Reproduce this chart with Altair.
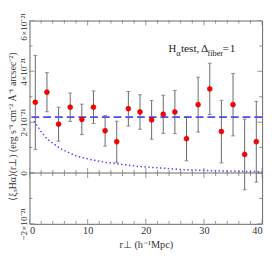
import altair as alt
import pandas as pd

# Measured data (units of 1e-21 erg s^-1 cm^-2 Å^-1 arcsec^-2)
r_perp = [1, 3, 5, 7, 9, 11, 13, 15, 17, 19, 21, 23, 25, 27, 29, 31, 33, 35, 37, 39]
xi_1e21 = [2.78, 3.18, 1.92, 2.59, 2.11, 2.59, 1.66, 1.23, 2.53, 2.40,
           2.09, 2.31, 2.40, 1.35, 2.69, 3.31, 1.63, 2.69, 0.73, 1.23]
err_1e21 = [1.85, 0.77, 0.67, 0.56, 0.60, 0.64, 0.60, 0.81, 0.68, 0.68,
            0.76, 0.75, 0.85, 0.87, 1.08, 1.01, 1.23, 1.23, 1.39, 1.59]

model_r = [0.8, 1.9, 3.0, 5.3, 8.1, 10.9, 13.1, 18.7, 26.6, 33.0, 40.0]
model_xi = [2.04, 1.66, 1.34, 0.96, 0.66, 0.51, 0.42, 0.26, 0.13, 0.08, 0.05]

mean_level = [2.2]

x_major = [0, 10, 20, 30, 40]
x_minor = [2, 4, 6, 8, 12, 14, 16, 18, 22, 24, 26, 28, 32, 34, 36, 38]
y_major = [-2, 0, 2, 4, 6]
y_minor = [-1, 1, 3, 5]

FONT = "Liberation Serif"
GRAY = "#666666"
BLUE = "#4a4aff"

W, H = 238, 208

df = pd.DataFrame({"r": r_perp, "xi": xi_1e21, "err": err_1e21})
df["lo"] = df["xi"] - df["err"]
df["hi"] = df["xi"] + df["err"]
dm = pd.DataFrame({"r": model_r, "xi": model_xi})

xs = alt.Scale(domain=[0, 40], nice=False, zero=False)
ys = alt.Scale(domain=[-2, 6], nice=False, zero=False)

xaxis = alt.Axis(values=x_major, ticks=False, domain=False, grid=False,
                 labelFont=FONT, labelFontSize=10.5, labelColor="#333",
                 labelPadding=2, title="r⊥ (h⁻¹Mpc)", titleFont=FONT,
                 titleFontSize=10.5, titleFontWeight="normal", titleColor="#333",
                 titleY=24, titleBaseline="alphabetic", titleAlign="center",
                 titleX=W / 2)
yaxis = alt.Axis(values=y_major, ticks=False, domain=False, grid=False,
                 labelFont=FONT, labelFontSize=9.5, labelColor="#333",
                 labelAngle=270, labelAlign="center", labelBaseline="bottom",
                 labelPadding=1,
                 labelOffset={"condition": {"test": "datum.value == 6", "value": 6}, "value": 0},
                 labelExpr="datum.value == 0 ? '0' : (datum.value < 0 ? '−' : '') + abs(datum.value) + '×10⁻²¹'",
                 title="⟨ξₛHα⟩(r⊥) (erg s⁻¹ cm⁻² Å⁻¹ arcsec⁻²)",
                 titleFont=FONT, titleFontSize=10, titleFontWeight="normal",
                 titleColor="#333", titleAngle=270, titleX=-12, titleY=H / 2 + 4,
                 titleAlign="center", titleBaseline="bottom")


def X(field):
    return alt.X(field, scale=xs, axis=xaxis)


def Y(field):
    return alt.Y(field, scale=ys, axis=yaxis)


base = alt.Chart(df)

zero = alt.Chart(pd.DataFrame({"v": [0]})).mark_rule(color=GRAY, strokeWidth=1).encode(
    y=Y("v:Q"))
dash = alt.Chart(pd.DataFrame({"v": mean_level})).mark_rule(
    color=BLUE, strokeWidth=1.6, strokeDash=[8, 4]).encode(y=Y("v:Q"))
model = alt.Chart(dm).mark_line(color=BLUE, strokeWidth=1.5, strokeDash=[1.5, 2.5]).encode(
    x=X("r:Q"), y=Y("xi:Q"))

bars = base.mark_rule(color=GRAY, strokeWidth=1).encode(
    x=X("r:Q"), y=Y("lo:Q"), y2="hi:Q")
cap_lo = base.mark_tick(color=GRAY, orient="horizontal", size=4, thickness=1).encode(
    x=X("r:Q"), y=Y("lo:Q"))
cap_hi = base.mark_tick(color=GRAY, orient="horizontal", size=4, thickness=1).encode(
    x=X("r:Q"), y=Y("hi:Q"))
pts = base.mark_point(filled=True, shape="circle", size=26, color="#ff0000",
                      stroke="#b00000", strokeWidth=0.5, opacity=1).encode(
    x=X("r:Q"), y=Y("xi:Q"))


def xticks(vals, length, yv):
    return alt.Chart(pd.DataFrame({"t": vals})).mark_tick(
        orient="vertical", size=length, thickness=1, color=GRAY, clip=True).encode(
        x=X("t:Q"), y=alt.Y(datum=yv, scale=ys, axis=yaxis))


def yticks(vals, length, xv):
    return alt.Chart(pd.DataFrame({"t": vals})).mark_tick(
        orient="horizontal", size=length, thickness=1, color=GRAY, clip=True).encode(
        y=Y("t:Q"), x=alt.X(datum=xv, scale=xs, axis=xaxis))


ticks = []
for yv in (-2, 6):
    ticks += [xticks(x_major, 10, yv), xticks(x_minor, 6, yv)]
ticks += [xticks(x_major, 10, 0), xticks(x_minor, 6, 0)]
for xv in (0, 40):
    ticks += [yticks(y_major, 10, xv), yticks(y_minor, 6, xv)]

# annotation pieces: H_alpha test, Delta_fiber=1
ann_text = ["H", "α", "test,", "Δ", "fiber", "=", "1"]
ann_x = [23.9, 25.25, 26.05, 29.5, 30.6, 33.2, 34.45]
ann_y = [4.75, 4.62, 4.75, 4.75, 4.62, 4.75, 4.75]
ann_size = [11, 8.5, 11.5, 11.5, 8.5, 11.5, 11.5]
ann = []
for t, ax, ay, sz in zip(ann_text, ann_x, ann_y, ann_size):
    ann.append(alt.Chart(pd.DataFrame({"x": [ax], "y": [ay], "t": [t]})).mark_text(
        align="left", baseline="alphabetic", font=FONT, fontSize=sz, color="#222").encode(
        x=X("x:Q"), y=Y("y:Q"), text="t:N"))

chart = alt.layer(zero, dash, model, bars, cap_lo, cap_hi, pts, *ticks, *ann).properties(
    width=W, height=H, autosize="none",
    padding={"left": 22, "top": 10, "right": 5, "bottom": 26},
).configure_view(stroke=GRAY, strokeWidth=1)

chart.save("out.html", embed_options={"renderer": "svg", "actions": False})
